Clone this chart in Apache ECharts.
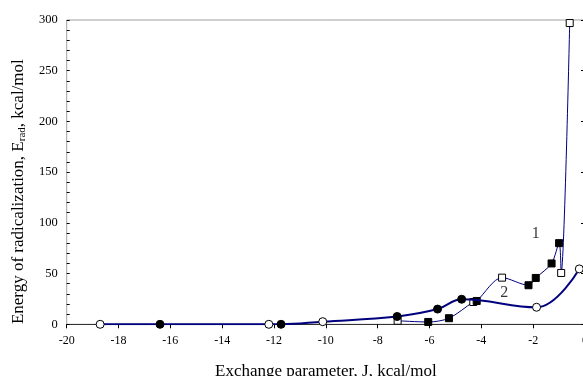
<!DOCTYPE html>
<html>
<head>
<meta charset="utf-8">
<script src="https://cdn.jsdelivr.net/npm/echarts@6/dist/echarts.min.js"></script>
<style>html,body{margin:0;padding:0;background:#fff;}#c{width:583px;height:376px;}</style>
</head>
<body>
<div id="c"></div>
<script>
// Series 1 (squares)
var s1J = [-7.23, -6.05, -5.25, -4.31, -4.18, -3.2, -2.18, -1.9, -1.29, -1.0, -0.92, -0.59];
var s1E = [3.5, 2.3, 6, 22, 23, 46, 38.5, 45.7, 60, 80, 50.6, 297];
var s1Open = [true, false, false, true, false, true, false, false, false, false, true, true];
// Series 2 (circles)
var s2J = [-18.71, -16.4, -12.2, -11.73, -10.12, -7.25, -5.69, -4.76, -1.87, -0.22];
var s2E = [0, 0, 0, 0, 2.6, 7.7, 15, 24.7, 16.8, 54.6];
var s2Open = [true, false, true, false, true, false, false, false, true, true];
// Curve labels
var curveLabelJ = [-1.9, -3.12];
var curveLabelE = [89.7, 30.6];
var curveLabelText = ['1', '2'];
// Axes
var xMin = -20, xMax = 0, xStep = 2;
var yMin = 0, yMax = 300, yStep = 50, yMinorStep = 10;

var LINE = '#00007f';
var FONT = 'Liberation Serif';

function pts(js, es, opens) {
  return js.map(function (j, i) {
    return {
      value: [j, es[i]],
      itemStyle: opens[i]
        ? { color: '#ffffff', borderColor: '#000000', borderWidth: 1 }
        : { color: '#000000', borderColor: '#000000', borderWidth: 1 }
    };
  });
}

var chart = echarts.init(document.getElementById('c'), null, { renderer: 'canvas' });
chart.setOption({
  animation: false,
  backgroundColor: '#ffffff',
  grid: { left: 66.7, right: -2, top: 20, bottom: 51.7, outerBoundsMode: 'none', containLabel: false, show: true, borderColor: '#a0a0a0', borderWidth: 1, backgroundColor: 'transparent' },
  xAxis: {
    type: 'value', min: xMin, max: xMax, interval: xStep,
    axisLine: { lineStyle: { color: '#333333', width: 1 } },
    axisTick: { show: true, length: 4, lineStyle: { color: '#000000' } },
    axisLabel: { fontFamily: FONT, fontSize: 12, color: '#000000', margin: 11 },
    splitLine: { show: false },
    name: 'Exchange parameter, J, kcal/mol',
    nameLocation: 'middle', nameGap: 39,
    nameTextStyle: { fontFamily: FONT, fontSize: 17, color: '#000000' }
  },
  yAxis: [{
    type: 'value', min: yMin, max: yMax, interval: yStep,
    axisLine: { show: true, lineStyle: { color: '#000000', width: 1 } },
    axisTick: { show: true, length: 4, lineStyle: { color: '#000000' } },
    axisLabel: { fontFamily: FONT, fontSize: 12.5, color: '#000000', margin: 9 },
    splitLine: { show: false },
    name: 'Energy of radicalization, E{sub|rad}, kcal/mol',
    nameLocation: 'middle', nameGap: 39,
    nameTextStyle: {
      fontFamily: FONT, fontSize: 17, color: '#000000', padding: [0, 39, 0, 0],
      rich: { sub: { fontFamily: FONT, fontSize: 11, color: '#000000', padding: [8, 0, 0, 0] } }
    }
  }, {
    type: 'value', min: yMin, max: yMax, interval: yMinorStep, position: 'left',
    axisLine: { show: false },
    axisTick: { show: true, inside: true, length: 3, lineStyle: { color: '#000000' } },
    axisLabel: { show: false },
    splitLine: { show: false }
  }],
  series: [{
    name: '1', type: 'line', xAxisIndex: 0, yAxisIndex: 0,
    data: pts(s1J, s1E, s1Open),
    smooth: 0.3,
    symbol: 'rect', symbolSize: 7,
    lineStyle: { color: LINE, width: 1 },
    z: 2
  }, {
    name: '2', type: 'line', xAxisIndex: 0, yAxisIndex: 0,
    data: pts(s2J, s2E, s2Open),
    smooth: 0.4,
    symbol: 'circle', symbolSize: 8,
    lineStyle: { color: LINE, width: 2 },
    z: 3
  }, {
    name: 'labels', type: 'scatter', xAxisIndex: 0, yAxisIndex: 0,
    data: curveLabelJ.map(function (j, i) { return { value: [j, curveLabelE[i]], name: curveLabelText[i] }; }),
    symbolSize: 0,
    label: { show: true, position: 'inside', formatter: '{b}', fontFamily: FONT, fontSize: 16, color: '#000000' },
    silent: true, z: 4
  }]
});
</script>
</body>
</html>
